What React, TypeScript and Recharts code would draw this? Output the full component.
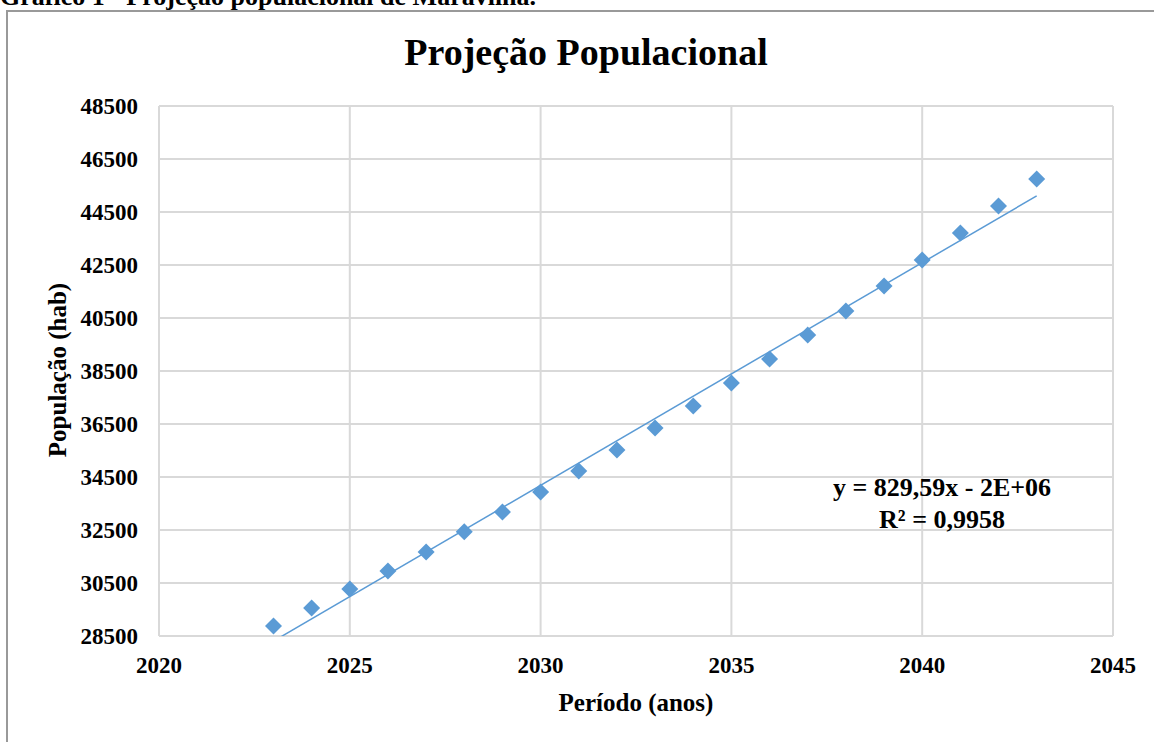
import { ScatterChart, Scatter, XAxis, YAxis, CartesianGrid, ReferenceLine } from "recharts";

const years = [2023, 2024, 2025, 2026, 2027, 2028, 2029, 2030, 2031, 2032, 2033, 2034, 2035, 2036, 2037, 2038, 2039, 2040, 2041, 2042, 2043];
const population = [28880, 29560, 30270, 30950, 31670, 32430, 33180, 33930, 34730, 35520, 36350, 37180, 38050, 38950, 39860, 40760, 41710, 42690, 43710, 44730, 45750];
const xTicks = [2020, 2025, 2030, 2035, 2040, 2045];
const yTicks = [28500, 30500, 32500, 34500, 36500, 38500, 40500, 42500, 44500, 46500, 48500];

const data = years.map((x, i) => ({ x, y: population[i] }));

// linear trendline (least squares), like Excel's
const n = years.length;
const mx = years.reduce((a, b) => a + b, 0) / n;
const my = population.reduce((a, b) => a + b, 0) / n;
let sxy = 0;
let sxx = 0;
years.forEach((x, i) => {
  sxy += (x - mx) * (population[i] - my);
  sxx += (x - mx) * (x - mx);
});
const slope = sxy / sxx;
const x0 = years[0];
const x1 = years[n - 1];
const trend = [
  { x: x0, y: my + slope * (x0 - mx) },
  { x: x1, y: my + slope * (x1 - mx) },
];

const font = "'Liberation Serif', 'Times New Roman', serif";
const blue = "#5B9BD5";

const Diamond = (props: any) => {
  const { cx, cy } = props;
  const r = 8.5;
  return <polygon points={`${cx},${cy - r} ${cx + r},${cy} ${cx},${cy + r} ${cx - r},${cy}`} fill={blue} />;
};

const tickStyle = { fontSize: 23, fontWeight: 700, fill: "#000", fontFamily: font };

export default function App() {
  return (
    <div style={{ position: "absolute", left: 0, top: 0, width: 1154, height: 742, overflow: "hidden", background: "#fff", fontFamily: font }}>
      <div style={{ position: "absolute", left: 0, top: -16, fontSize: 26, lineHeight: "26px", fontWeight: 700, whiteSpace: "nowrap" }}>
        Gráfico 1 - Projeção populacional de Maravilha.
      </div>
      <div style={{ position: "absolute", left: 6, top: 10, width: 1200, height: 800, borderLeft: "2px solid #999", borderTop: "2px solid #999" }} />

      <div style={{ position: "absolute", left: 586, top: 52, transform: "translate(-50%, -50%)", fontSize: 38, fontWeight: 700, whiteSpace: "nowrap" }}>
        Projeção Populacional
      </div>

      <div style={{ position: "absolute", left: 0, top: 0 }}>
        <ScatterChart width={1154} height={742} margin={{ top: 106, right: 41, bottom: 56, left: 79 }}>
          <CartesianGrid stroke="#d9d9d9" strokeWidth={2} />
          <XAxis
            type="number"
            dataKey="x"
            domain={[2020, 2045]}
            ticks={xTicks}
            interval={0}
            height={50}
            tickSize={0}
            tickMargin={21}
            axisLine={false}
            tickLine={false}
            tick={tickStyle}
          />
          <YAxis
            type="number"
            dataKey="y"
            domain={[28500, 48500]}
            ticks={yTicks}
            interval={0}
            width={80}
            tickSize={0}
            tickMargin={21}
            axisLine={false}
            tickLine={false}
            tick={tickStyle}
          />
          <ReferenceLine
            segment={trend}
            stroke={blue}
            strokeWidth={1.5}
            ifOverflow="hidden"
          />
          <Scatter data={data} fill={blue} shape={Diamond} isAnimationActive={false} />
        </ScatterChart>
      </div>

      <div style={{ position: "absolute", left: 636, top: 703, transform: "translate(-50%, -50%)", fontSize: 25, fontWeight: 700, whiteSpace: "nowrap" }}>
        Período (anos)
      </div>
      <div style={{ position: "absolute", left: 58, top: 370, transform: "translate(-50%, -50%) rotate(-90deg)", fontSize: 25, fontWeight: 700, whiteSpace: "nowrap" }}>
        População (hab)
      </div>

      <div style={{ position: "absolute", left: 942, top: 504, transform: "translate(-50%, -50%)", fontSize: 26, lineHeight: "32px", fontWeight: 700, textAlign: "center", whiteSpace: "nowrap" }}>
        <div>y = 829,59x - 2E+06</div>
        <div>R² = 0,9958</div>
      </div>
    </div>
  );
}
